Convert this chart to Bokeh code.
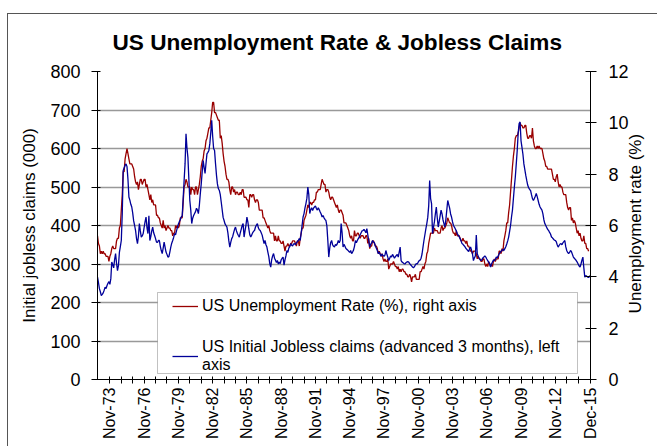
import math
from bokeh.plotting import figure
from bokeh.models import (Range1d, LinearAxis, FixedTicker, Legend, LegendItem,
                          BoxAnnotation, ColumnDataSource)
from bokeh.embed import file_html
from bokeh.resources import INLINE

# ---------------- data ----------------
START = "Oct-1972"  # first month of both series (index 0)

# US unemployment rate (%), monthly, Oct 1972 .. Oct 2015  (right axis)
unemployment_rate = [
    5.6, 5.3, 5.2,                                                  # 1972 O-D
    4.9, 5.0, 4.9, 5.0, 4.9, 4.9, 4.8, 4.8, 4.8, 4.6, 4.8, 4.9,    # 1973
    5.1, 5.2, 5.1, 5.1, 5.1, 5.4, 5.5, 5.5, 5.9, 6.0, 6.6, 7.2,    # 1974
    8.1, 8.1, 8.6, 8.8, 9.0, 8.8, 8.6, 8.4, 8.4, 8.4, 8.3, 8.2,    # 1975
    7.9, 7.7, 7.6, 7.7, 7.4, 7.6, 7.8, 7.8, 7.6, 7.7, 7.8, 7.8,    # 1976
    7.5, 7.6, 7.4, 7.2, 7.0, 7.2, 6.9, 7.0, 6.8, 6.8, 6.8, 6.4,    # 1977
    6.4, 6.3, 6.3, 6.1, 6.0, 5.9, 6.2, 5.9, 6.0, 5.8, 5.9, 6.0,    # 1978
    5.9, 5.9, 5.8, 5.8, 5.6, 5.7, 5.7, 6.0, 5.9, 6.0, 5.9, 6.0,    # 1979
    6.3, 6.3, 6.3, 6.9, 7.5, 7.6, 7.8, 7.7, 7.5, 7.5, 7.5, 7.2,    # 1980
    7.5, 7.4, 7.4, 7.2, 7.5, 7.5, 7.2, 7.4, 7.6, 7.9, 8.3, 8.5,    # 1981
    8.6, 8.9, 9.0, 9.3, 9.4, 9.6, 9.8, 9.8, 10.1, 10.4, 10.8, 10.8,  # 1982
    10.4, 10.4, 10.3, 10.2, 10.1, 10.1, 9.4, 9.5, 9.2, 8.8, 8.5, 8.3,  # 1983
    8.0, 7.8, 7.8, 7.7, 7.4, 7.2, 7.5, 7.5, 7.3, 7.4, 7.2, 7.3,    # 1984
    7.3, 7.2, 7.2, 7.3, 7.2, 7.4, 7.4, 7.1, 7.1, 7.1, 7.0, 7.0,    # 1985
    6.7, 7.2, 7.2, 7.1, 7.2, 7.2, 7.0, 6.9, 7.0, 7.0, 6.9, 6.6,    # 1986
    6.6, 6.6, 6.6, 6.3, 6.3, 6.2, 6.1, 6.0, 5.9, 6.0, 5.8, 5.7,    # 1987
    5.7, 5.7, 5.7, 5.4, 5.6, 5.4, 5.4, 5.6, 5.4, 5.4, 5.3, 5.3,    # 1988
    5.4, 5.2, 5.0, 5.2, 5.2, 5.3, 5.2, 5.2, 5.3, 5.3, 5.4, 5.4,    # 1989
    5.4, 5.3, 5.2, 5.4, 5.4, 5.2, 5.5, 5.7, 5.9, 5.9, 6.2, 6.3,    # 1990
    6.4, 6.6, 6.8, 6.7, 6.9, 6.9, 6.8, 6.9, 6.9, 7.0, 7.0, 7.3,    # 1991
    7.3, 7.4, 7.4, 7.4, 7.6, 7.8, 7.7, 7.6, 7.6, 7.3, 7.4, 7.4,    # 1992
    7.3, 7.1, 7.0, 7.1, 7.1, 7.0, 6.9, 6.8, 6.7, 6.8, 6.6, 6.5,    # 1993
    6.6, 6.6, 6.5, 6.4, 6.1, 6.1, 6.1, 6.0, 5.9, 5.8, 5.6, 5.5,    # 1994
    5.6, 5.4, 5.4, 5.8, 5.6, 5.6, 5.7, 5.7, 5.6, 5.5, 5.6, 5.6,    # 1995
    5.6, 5.5, 5.5, 5.6, 5.6, 5.3, 5.5, 5.1, 5.2, 5.2, 5.4, 5.4,    # 1996
    5.3, 5.2, 5.2, 5.1, 4.9, 5.0, 4.9, 4.8, 4.9, 4.7, 4.6, 4.7,    # 1997
    4.6, 4.6, 4.7, 4.3, 4.4, 4.5, 4.5, 4.5, 4.6, 4.5, 4.4, 4.4,    # 1998
    4.3, 4.4, 4.2, 4.3, 4.2, 4.3, 4.3, 4.2, 4.2, 4.1, 4.1, 4.0,    # 1999
    4.0, 4.1, 4.0, 3.8, 4.0, 4.0, 4.0, 4.1, 3.9, 3.9, 3.9, 3.9,    # 2000
    4.2, 4.2, 4.3, 4.4, 4.3, 4.5, 4.6, 4.9, 5.0, 5.3, 5.5, 5.7,    # 2001
    5.7, 5.7, 5.7, 5.9, 5.8, 5.8, 5.8, 5.7, 5.7, 5.7, 5.9, 6.0,    # 2002
    5.8, 5.9, 5.9, 6.0, 6.1, 6.3, 6.2, 6.1, 6.1, 6.0, 5.8, 5.7,    # 2003
    5.7, 5.6, 5.8, 5.6, 5.6, 5.6, 5.5, 5.4, 5.4, 5.5, 5.4, 5.4,    # 2004
    5.3, 5.4, 5.2, 5.2, 5.1, 5.0, 5.0, 4.9, 5.0, 5.0, 5.0, 4.9,    # 2005
    4.7, 4.8, 4.7, 4.7, 4.6, 4.6, 4.7, 4.7, 4.5, 4.4, 4.5, 4.4,    # 2006
    4.6, 4.5, 4.4, 4.5, 4.4, 4.6, 4.7, 4.6, 4.7, 4.7, 4.7, 5.0,    # 2007
    5.0, 4.9, 5.1, 5.0, 5.4, 5.6, 5.8, 6.1, 6.1, 6.5, 6.8, 7.3,    # 2008
    7.8, 8.3, 8.7, 9.0, 9.4, 9.5, 9.5, 9.6, 9.8, 10.0, 9.9, 9.9,   # 2009
    9.8, 9.8, 9.9, 9.9, 9.6, 9.4, 9.4, 9.5, 9.5, 9.4, 9.8, 9.3,    # 2010
    9.1, 9.0, 9.0, 9.1, 9.0, 9.1, 9.0, 9.0, 9.0, 8.8, 8.6, 8.5,    # 2011
    8.3, 8.3, 8.2, 8.2, 8.2, 8.2, 8.2, 8.0, 7.8, 7.8, 7.7, 7.9,    # 2012
    8.0, 7.7, 7.5, 7.6, 7.5, 7.5, 7.3, 7.2, 7.2, 7.2, 6.9, 6.7,    # 2013
    6.6, 6.7, 6.7, 6.2, 6.3, 6.1, 6.2, 6.1, 5.9, 5.7, 5.8, 5.6,    # 2014
    5.7, 5.5, 5.4, 5.4, 5.6, 5.3, 5.3, 5.1, 5.1, 5.0,              # 2015 J-O
]

# US initial jobless claims (000), advanced 3 months, Oct 1972 .. Dec 2015  (left axis)
jobless_claims = [
    266, 252, 236,                                                  # 1972 O-D
    228, 218, 221, 225, 232, 240, 236, 244, 250, 254, 247, 262,    # 1973
    305, 298, 290, 312, 327, 302, 283, 296, 330, 345, 361, 430,    # 1974
    543, 550, 556, 560, 553, 520, 474, 466, 455, 448, 432, 412,    # 1975
    400, 387, 366, 353, 372, 405, 386, 370, 373, 379, 395, 410,    # 1976
    422, 394, 379, 425, 361, 371, 386, 396, 381, 374, 366, 357,    # 1977
    356, 361, 361, 346, 335, 327, 341, 357, 344, 331, 325, 318,    # 1978
    319, 331, 344, 354, 361, 369, 379, 376, 386, 395, 404, 410,    # 1979
    415, 422, 425, 470, 517, 560, 638, 601, 577, 520, 465, 440,    # 1980
    405, 419, 426, 431, 436, 445, 440, 431, 452, 482, 508, 540,    # 1981
    569, 551, 535, 561, 586, 590, 595, 612, 641, 673, 632, 600,    # 1982
    595, 561, 531, 508, 496, 491, 480, 461, 441, 421, 413, 404,    # 1983
    400, 396, 381, 360, 344, 356, 366, 371, 381, 390, 396, 386,    # 1984
    379, 374, 370, 381, 390, 400, 405, 370, 386, 401, 422, 409,    # 1985
    391, 376, 370, 375, 381, 385, 387, 396, 401, 405, 394, 389,    # 1986
    387, 381, 375, 364, 353, 361, 350, 344, 331, 319, 301, 292,    # 1987
    311, 321, 327, 315, 310, 304, 309, 300, 305, 301, 311, 315,    # 1988
    318, 297, 311, 321, 335, 330, 341, 345, 353, 349, 347, 352,    # 1989
    353, 350, 356, 358, 361, 366, 361, 380, 401, 422, 431, 446,    # 1990
    457, 471, 500, 481, 431, 441, 446, 439, 445, 448, 451, 444,    # 1991
    440, 446, 441, 435, 430, 422, 426, 420, 416, 413, 399, 361,    # 1992
    318, 341, 356, 361, 350, 346, 344, 351, 348, 353, 361, 355,    # 1993
    361, 405, 381, 344, 351, 346, 340, 338, 336, 333, 330, 335,    # 1994
    327, 331, 336, 346, 361, 355, 361, 366, 370, 376, 381, 386,    # 1995
    387, 390, 386, 381, 392, 376, 361, 344, 351, 355, 361, 357,    # 1996
    355, 346, 341, 335, 327, 331, 325, 320, 326, 322, 320, 323,    # 1997
    335, 326, 318, 309, 315, 321, 318, 325, 320, 315, 319, 322,    # 1998
    325, 318, 331, 344, 309, 305, 303, 301, 300, 303, 305, 306,    # 1999
    305, 301, 298, 295, 292, 290, 293, 298, 301, 300, 305, 309,    # 2000
    310, 315, 326, 344, 361, 376, 391, 405, 421, 451, 517, 470,    # 2001
    457, 379, 395, 410, 430, 448, 420, 396, 410, 425, 440, 430,    # 2002
    415, 405, 396, 415, 440, 465, 455, 445, 430, 422, 410, 400,    # 2003
    396, 391, 386, 379, 375, 371, 366, 360, 353, 351, 348, 345,    # 2004
    341, 338, 335, 332, 340, 344, 336, 326, 309, 316, 321, 375,    # 2005
    327, 320, 315, 311, 309, 312, 316, 318, 321, 318, 313, 309,    # 2006
    305, 301, 292, 300, 305, 310, 309, 312, 318, 316, 321, 326,    # 2007
    330, 333, 336, 338, 335, 340, 345, 352, 360, 370, 385, 400,    # 2008
    422, 440, 470, 500, 526, 560, 595, 640, 665, 669, 620, 603,    # 2009
    585, 560, 545, 530, 517, 505, 498, 494, 491, 480, 470, 465,    # 2010
    470, 476, 483, 475, 465, 455, 448, 444, 440, 430, 415, 405,    # 2011
    400, 395, 390, 387, 382, 378, 370, 368, 365, 362, 361, 358,    # 2012
    350, 344, 348, 352, 353, 350, 355, 358, 361, 345, 335, 330,    # 2013
    327, 330, 335, 332, 325, 318, 315, 312, 309, 305, 300, 295,    # 2014
    292, 300, 310, 318, 290, 266, 270, 268, 266, 265, 268, 270,    # 2015
]

# category-axis ticks: one every November plus the last month (Dec-15)
tick_month_index = [13 + 12 * k for k in range(42)] + [518]
tick_labels = ["Nov-73", "", "", "Nov-76", "", "", "Nov-79", "", "", "Nov-82", "", "",
               "Nov-85", "", "", "Nov-88", "", "", "Nov-91", "", "", "Nov-94", "", "",
               "Nov-97", "", "", "Nov-00", "", "", "Nov-03", "", "", "Nov-06", "", "",
               "Nov-09", "", "", "Nov-12", "", "", "Dec-15"]
claims_ticks = [0, 100, 200, 300, 400, 500, 600, 700, 800]
rate_ticks = [0, 2, 4, 6, 8, 10, 12]

title_text = "US Unemployment Rate & Jobless Claims"
left_label = "Initial jobless claims (000)"
right_label = "Unemployment rate (%)"
rate_name = "US Unemployment Rate (%), right axis"
claims_name = "US Initial Jobless claims (advanced 3 months), left\naxis"

FONT = "Liberation Sans"
RED = "#990000"
BLUE = "#000099"

# ---------------- figure ----------------
p = figure(width=657, height=446, output_backend="svg", toolbar_location=None,
           x_range=Range1d(0, 518), y_range=Range1d(0, 800),
           min_border_left=97, min_border_right=62, min_border_top=71, min_border_bottom=67,
           background_fill_color="white", border_fill_color="white", border_fill_alpha=0)
p.outline_line_color = None
# outer chart-area border (left and top edges visible) drawn behind the transparent canvas border
p.styles = {
    "background": ("linear-gradient(#555555, #555555) 7px 13px / 1px 433px no-repeat, "
                   "linear-gradient(#555555, #555555) 7px 13px / 650px 1px no-repeat, white"),
}

p.title.text = title_text
p.title.align = "left"
p.title.offset = 15
p.title.text_font = FONT
p.title.text_font_size = "22.6px"
p.title.text_font_style = "bold"
p.title.text_color = "black"
p.title.standoff = 34

p.xgrid.grid_line_color = None
p.ygrid.ticker = FixedTicker(ticks=claims_ticks)
p.ygrid.grid_line_color = "#999999"
p.ygrid.grid_line_width = 1.4

rate_src = ColumnDataSource(dict(x=list(range(len(unemployment_rate))), y=unemployment_rate))
claims_src = ColumnDataSource(dict(x=list(range(len(jobless_claims))), y=jobless_claims))

p.extra_y_ranges = {"rate": Range1d(0, 12)}

r_red = p.line("x", "y", source=rate_src, color=RED, line_width=1.3, y_range_name="rate")
r_blue = p.line("x", "y", source=claims_src, color=BLUE, line_width=1.3)

# x axis
xa = p.xaxis[0]
xa.ticker = FixedTicker(ticks=tick_month_index)
xa.major_label_overrides = {t: lab for t, lab in zip(tick_month_index, tick_labels)}
xa.major_label_orientation = math.pi / 2
xa.major_label_text_font = FONT
xa.major_label_text_font_size = "16px"
xa.major_label_text_color = "black"
xa.major_label_standoff = 4
xa.major_tick_in = 3
xa.major_tick_out = 4
xa.minor_tick_line_color = None
xa.axis_line_color = "black"
xa.major_tick_line_color = "black"

# left axis
ya = p.yaxis[0]
ya.ticker = FixedTicker(ticks=claims_ticks)
ya.major_label_text_font = FONT
ya.major_label_text_font_size = "18px"
ya.major_label_text_color = "black"
ya.major_label_standoff = 11
ya.major_tick_in = 3
ya.major_tick_out = 6
ya.minor_tick_line_color = None
ya.axis_line_color = "black"
ya.axis_label = left_label
ya.axis_label_text_font = FONT
ya.axis_label_text_font_size = "17px"
ya.axis_label_text_font_style = "normal"
ya.axis_label_text_color = "black"
ya.axis_label_standoff = 8

# right axis (title reads bottom-to-top; anchored at the axis start, lifted by padding)
ra = LinearAxis(y_range_name="rate", ticker=FixedTicker(ticks=rate_ticks))
ra.major_label_text_font = FONT
ra.major_label_text_font_size = "18px"
ra.major_label_text_color = "black"
ra.major_label_standoff = 12
ra.major_tick_in = 5
ra.major_tick_out = 6
ra.minor_tick_line_color = None
ra.axis_line_color = "black"
ra.axis_label = "\u00a0" * 14 + right_label
ra.axis_label_text_font = FONT
ra.axis_label_text_font_size = "17px"
ra.axis_label_text_font_style = "normal"
ra.axis_label_text_color = "black"
ra.axis_label_standoff = 4
ra.axis_label_orientation = math.pi / 2
ra.axis_label_align = "start"
p.add_layout(ra, "right")

# legend box + entries
p.add_layout(BoxAnnotation(left=60, right=480, bottom=6, top=87,
                           left_units="screen", right_units="screen",
                           bottom_units="screen", top_units="screen",
                           fill_color="white", fill_alpha=1.0,
                           line_color="#333333", line_width=1))
legend = Legend(items=[LegendItem(label=rate_name, renderers=[r_red]),
                       LegendItem(label=claims_name, renderers=[r_blue])],
                location=(75, 5), padding=0, margin=0, spacing=22,
                glyph_width=26, glyph_height=20, label_standoff=4,
                label_text_font=FONT, label_text_font_size="16px",
                label_text_color="black",
                border_line_alpha=0, background_fill_alpha=0)
p.add_layout(legend)

open("out.html", "w").write(file_html(p, INLINE))
